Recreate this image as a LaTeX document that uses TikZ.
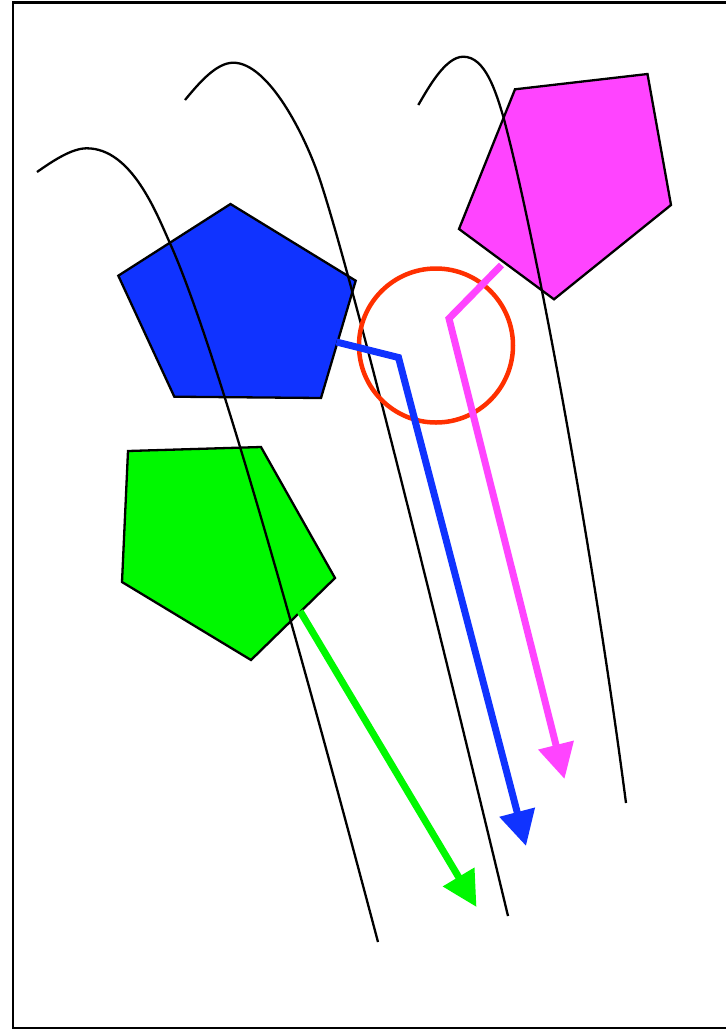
\documentclass[tikz,border=0pt]{standalone}
\usepackage{tikz}
\usetikzlibrary{arrows.meta}

\definecolor{penblue}{RGB}{16,51,255}
\definecolor{pengreen}{RGB}{0,248,0}
\definecolor{penmag}{RGB}{255,68,255}
\definecolor{ringred}{RGB}{255,48,0}

\begin{document}
\begin{tikzpicture}[
      x=1pt, y=-1pt,
      pent/.style={draw=black, line width=2.3pt, line join=miter},
      stem/.style={draw=black, line width=2.3pt, line cap=butt},
      ring/.style={draw=ringred, line width=4.5pt},
      arr/.style={line width=7pt, -{Triangle[length=35pt, width=35pt]}},
    ]
    \useasboundingbox (0,0) rectangle (726,1029);
    \clip (0,0) rectangle (726,1029);
    \draw[line width=2.3pt] (13,2.5) rectangle (800,1028);

    % pentagons
    \filldraw[pent, fill=penblue] (230.5,204) -- (355.7,280.7) -- (321,398) -- (174.3,396.7) -- (118.3,275.7) -- cycle;
    \filldraw[pent, fill=penmag] (515,89.3) -- (647.5,74) -- (671,205) -- (554,299.3) -- (459,229) -- cycle;
    \filldraw[pent, fill=pengreen] (128,451) -- (261,447) -- (335,578) -- (251,660) -- (122,582) -- cycle;

    % curves
    \draw[stem] (37,172) .. controls (53,160.8) and (71.7,148.3) .. (86.7,148.3)
      .. controls (131.7,148.3) and (156.5,213.3) .. (170,243.3)
      .. controls (215,343.3) and (298.5,642) .. (378,942);
    \draw[stem] (185,100) .. controls (199,83) and (216.3,62.7) .. (233.3,62.7)
      .. controls (268.3,62.7) and (305.2,135) .. (320,180)
      .. controls (353,280) and (436,616) .. (508,916);
    \draw[stem] (418.3,105) .. controls (428.3,88) and (445.3,56.7) .. (463.3,56.7)
      .. controls (485.3,56.7) and (495.8,91.7) .. (503.3,116.7)
      .. controls (535.7,236.7) and (593.5,553) .. (626,803);

    % ring
    \draw[ring] (436,345.5) circle[radius=77];

    % arrows
    \coordinate (blueout) at (336.5,342);
    \coordinate (bluebend) at (398.5,357.5);
    \coordinate (bluetip) at (526,846);
    \coordinate (magout) at (501.5,265);
    \coordinate (magbend) at (449,318.5);
    \coordinate (magtip) at (564.5,779);
    \coordinate (greenout) at (300,611);
    \coordinate (greentip) at (476.5,907);

    \draw[arr, penblue] (blueout) -- (bluebend) -- (bluetip);
    \draw[arr, penmag] (magout) -- (magbend) -- (magtip);
    \draw[arr, pengreen] (greenout) -- (greentip);
  \end{tikzpicture}
\end{document}
